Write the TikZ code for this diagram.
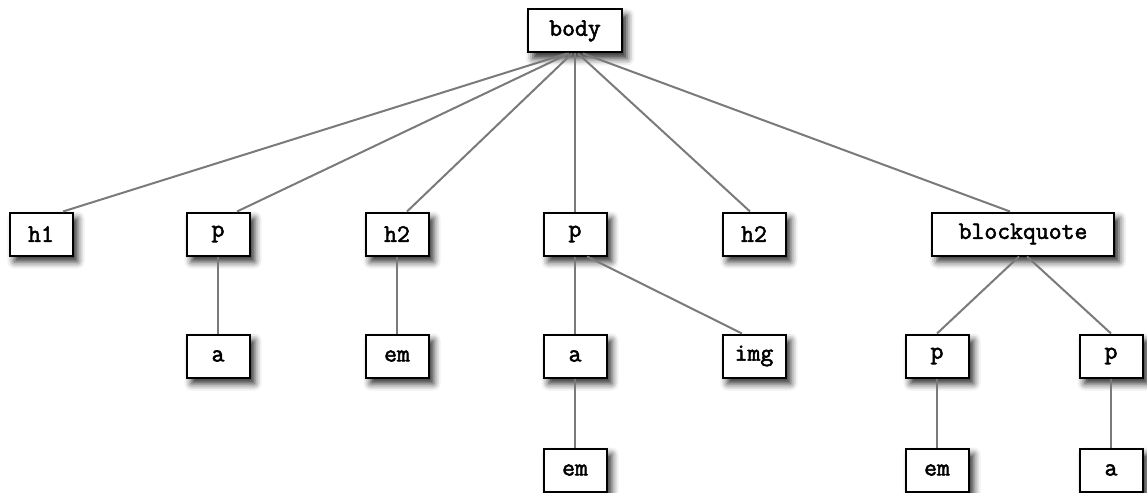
\documentclass[tikz,border=0pt]{standalone}
\usepackage{fontspec}
\newfontfamily\tagfont{Latin Modern Mono}[AutoFakeBold=2.2]
\usepackage{tikz}
\usetikzlibrary{positioning, shadows.blur}
\definecolor{edgegray}{RGB}{122,122,122}
\tikzset{
  tag/.style={rectangle, draw=black, fill=white, line width=2pt,
    minimum width=63pt, minimum height=43pt, inner xsep=4pt,
    font=\fontsize{25}{28}\tagfont\bfseries,
    blur shadow={shadow xshift=5pt, shadow yshift=-6pt,
      shadow blur radius=7pt, shadow opacity=85}},
  link/.style={line width=2pt, color=edgegray}
}

\begin{document}
\begin{tikzpicture}[x=1pt, y=1pt, node distance=122pt, on grid]
  \useasboundingbox (0,0) rectangle (1147,-492);

  % root and first level
  \node[tag, minimum width=94pt] (body) at (575,-31) {body};
  \node[tag] (h1) at (41,-234) {h1};
  \node[tag] (p1) at (218,-234) {p};
  \node[tag] (h2a) at (397,-234) {h2};
  \node[tag] (p2) at (575,-234) {p};
  \node[tag] (h2b) at (754,-234) {h2};
  \node[tag, minimum width=182pt] (bq) at (1023,-234) {blockquote};

  % second level
  \node[tag, below=of p1] (a1) {a};
  \node[tag, below=of h2a] (em1) {em};
  \node[tag, below=of p2] (a2) {a};
  \node[tag, below=of h2b] (img) {img};
  \node[tag, below=of bq, xshift=-86pt] (p3) {p};
  \node[tag, below=of bq, xshift=88pt] (p4) {p};

  % third level
  \node[tag, below=114pt of a2] (em2) {em};
  \node[tag, below=114pt of p3] (em3) {em};
  \node[tag, below=114pt of p4] (a3) {a};

  % links from body meet the children off centre
  \foreach \kid/\off/\start in {h1/22/-8, p1/19/-6, h2a/10/-3, p2/0/0, h2b/-4/3, bq/-13/8}
    \draw[link] ([xshift=\start pt]body.south) -- ([xshift=\off pt]\kid.north);
  \draw[link] (p1) -- (a1);
  \draw[link] (h2a) -- (em1);
  \draw[link] (p2) -- (a2);
  \draw[link] ([xshift=12pt]p2.south) -- ([xshift=-12pt]img.north);
  \draw[link] (a2) -- (em2);
  \draw[link] ([xshift=-4pt]bq.south) -- (p3.north);
  \draw[link] ([xshift=4pt]bq.south) -- (p4.north);
  \draw[link] (p3) -- (em3);
  \draw[link] (p4) -- (a3);
\end{tikzpicture}
\end{document}
